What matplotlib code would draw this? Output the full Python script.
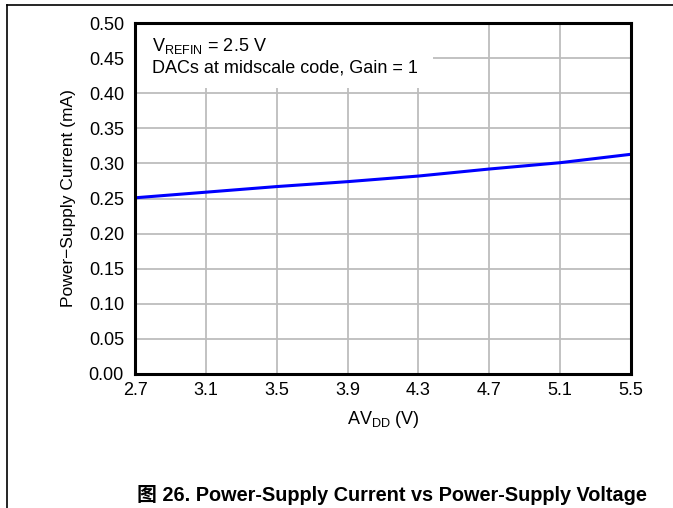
import matplotlib
matplotlib.use("Agg")
import matplotlib.pyplot as plt
from matplotlib.lines import Line2D
from matplotlib.patches import Rectangle

plt.rcParams['font.family'] = ['Liberation Sans', 'Noto Sans CJK SC', 'DejaVu Sans']
plt.rcParams['mathtext.fontset'] = 'custom'
plt.rcParams['mathtext.rm'] = 'Liberation Sans'

# AVDD (V) vs supply current (mA)
avdd = [2.7, 3.1, 3.5, 3.9, 4.3, 4.7, 5.1, 5.5]
current = [0.251, 0.259, 0.267, 0.274, 0.282, 0.292, 0.301, 0.313]

x_ticks = [2.7, 3.1, 3.5, 3.9, 4.3, 4.7, 5.1, 5.5]
y_ticks = [0.00, 0.05, 0.10, 0.15, 0.20, 0.25, 0.30, 0.35, 0.40, 0.45, 0.50]

fig = plt.figure(figsize=(6.73, 5.08), dpi=100)
ax = fig.add_axes([0.2006, 0.2638, 0.737, 0.6909])

ax.plot(avdd, current, color='#0000ff', lw=2.2, zorder=3)

ax.set_xlim(2.7, 5.5)
ax.set_ylim(0, 0.5)
ax.set_xticks(x_ticks)
ax.set_xticklabels([f"{v:.1f}" for v in x_ticks])
ax.set_yticks(y_ticks)
ax.set_yticklabels([f"{v:.2f}" for v in y_ticks])
ax.tick_params(length=0, labelsize=13)
ax.tick_params(axis='x', pad=6)
ax.tick_params(axis='y', pad=8)
ax.grid(True, color='#bdbdbd', lw=1.3)
ax.set_axisbelow(True)
for s in ax.spines.values():
    s.set_linewidth(2.2)
    s.set_zorder(5)

# white box behind the annotation hides the grid
ax.add_patch(Rectangle((0, 0.815), 0.601, 0.185, transform=ax.transAxes,
                       facecolor='white', edgecolor='none', zorder=1))
ax.text(0.035, 0.935, r'V$_{\mathregular{REFIN}}$ = 2.5 V', transform=ax.transAxes,
        fontsize=13, va='center', zorder=4)
ax.text(0.035, 0.872, 'DACs at midscale code, Gain = 1', transform=ax.transAxes,
        fontsize=13, va='center', zorder=4)

ax.set_xlabel(r'AV$_{\mathregular{DD}}$ (V)', fontsize=13, labelpad=7)
ax.set_ylabel('Power\u2212Supply Current (mA)', fontsize=12.5, labelpad=9)

fig.text(0.583, 0.025, '图 26. Power-Supply Current vs Power-Supply Voltage',
         ha='center', va='center', fontsize=14.3, fontweight='bold')

# page frame
fig.add_artist(Line2D([7/673, 7/673], [0, 1 - 5/508], color='black', lw=1.2))
fig.add_artist(Line2D([7/673, 1], [1 - 5/508, 1 - 5/508], color='black', lw=1.2))

fig.savefig("out.png", dpi=100)
